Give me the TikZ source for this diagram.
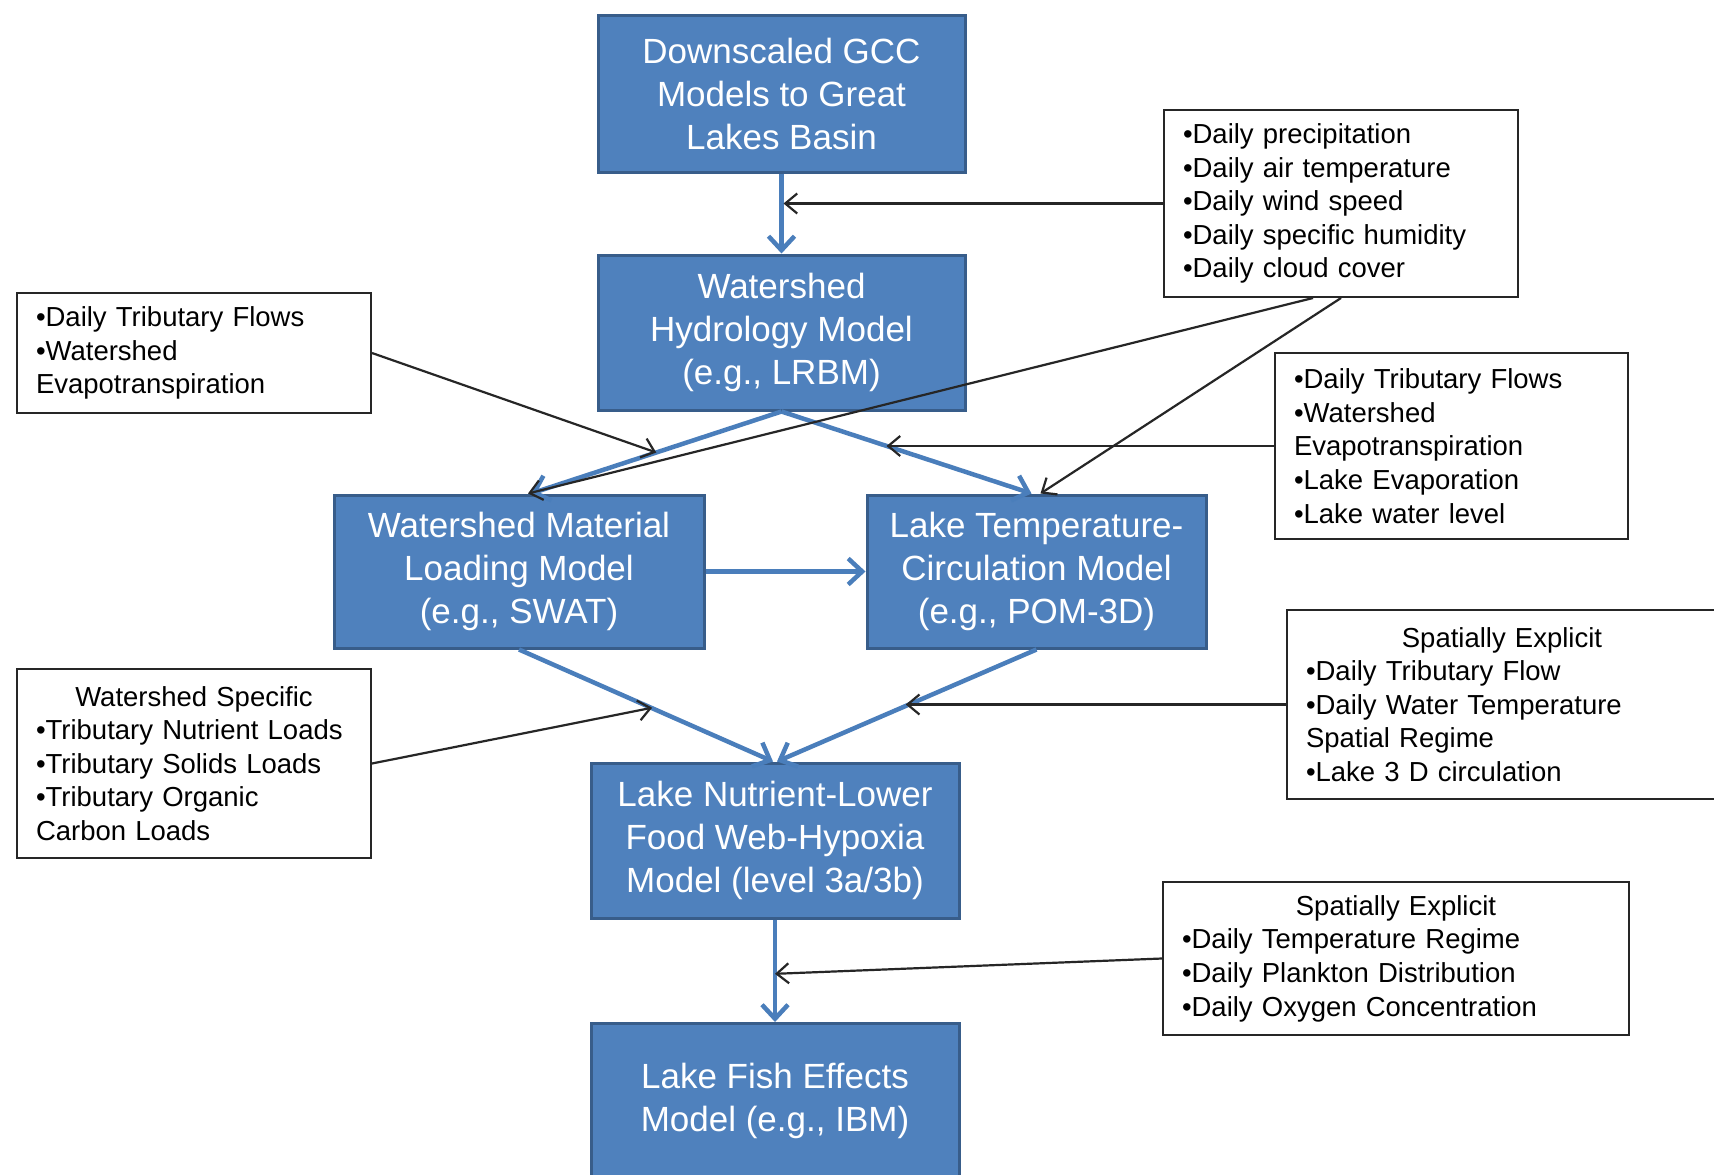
\documentclass[tikz,border=0pt]{standalone}
\usepackage{fontspec}
\setmainfont{Liberation Sans}
\usetikzlibrary{arrows.meta,calc}
\definecolor{modelblue}{HTML}{4F81BD}
\definecolor{modeledge}{HTML}{385D8A}
\definecolor{flowblue}{HTML}{4A7EBB}
\tikzset{
  model/.style={draw=modeledge, line width=3pt, fill=modelblue, text=white, align=center,
    inner sep=0pt, font=\fontsize{35}{42.6}\selectfont},
  note/.style={draw=black!85, line width=2pt, fill=white, align=left,
    inner xsep=19pt, inner ysep=0pt, font=\fontsize{27.5}{33.6}\selectfont},
  flow/.style={flowblue, line width=4.5pt, -{Straight Barb[length=14pt,width=26pt]}},
  feed/.style={black!85, line width=2.2pt, -{Straight Barb[length=12pt,width=20pt]}}
}
\newcommand{\headline}[1]{\makebox[\hsize]{#1}}

\begin{document}
\begin{tikzpicture}[x=1pt,y=-1pt]
  \fill[white] (0,0) rectangle (1714,1175);
  \useasboundingbox (0,0) rectangle (1714,1175);

  \node[model, minimum width=367pt, minimum height=157pt] (gcc) at (781.5,94) {Downscaled GCC\\Models to Great\\Lakes Basin};
  \node[model, minimum width=367pt, minimum height=155pt] (hydro) at (781.5,332.5) {Watershed\\Hydrology Model\\(e.g., LRBM)};
  \node[model, minimum width=370pt, minimum height=153pt] (material) at (519,571.5) {Watershed Material\\Loading Model\\(e.g., SWAT)};
  \node[model, minimum width=339pt, minimum height=153pt] (laketemp) at (1036.5,571.5) {Lake Temperature-\\Circulation Model\\(e.g., POM-3D)};
  \node[model, minimum width=368pt, minimum height=155pt] (nutrient) at (775,840.5) {Lake Nutrient-Lower\\Food Web-Hypoxia\\Model (level 3a/3b)};
  \node[model, minimum width=368pt, minimum height=155pt] (fish) at (775,1101) {Lake Fish Effects\\Model (e.g., IBM)};

  \node[note, text width=316pt, minimum height=187pt] (meteo) at (1341,203.5) {•Daily precipitation\\•Daily air temperature\\•Daily wind speed\\•Daily specific humidity\\•Daily cloud cover};
  \node[note, text width=316pt, minimum height=120pt] (tribleft) at (194,353) {•Daily Tributary Flows\\•Watershed\\Evapotranspiration};
  \node[note, text width=315pt, minimum height=186pt] (tribright) at (1451.5,446) {•Daily Tributary Flows\\•Watershed\\Evapotranspiration\\•Lake Evaporation\\•Lake water level};
  \node[note, text width=392pt, minimum height=189pt] (spatial1) at (1502,704.5) {\headline{Spatially Explicit}\\•Daily Tributary Flow\\•Daily Water Temperature\\Spatial Regime\\•Lake 3 D circulation};
  \node[note, text width=316pt, minimum height=189pt] (tribleft2) at (194,763.5) {\headline{Watershed Specific}\\•Tributary Nutrient Loads\\•Tributary Solids Loads\\•Tributary Organic\\Carbon Loads};
  \node[note, text width=428pt, minimum height=153pt] (spatial2) at (1396,958.5) {\headline{Spatially Explicit}\\•Daily Temperature Regime\\•Daily Plankton Distribution\\•Daily Oxygen Concentration};

  \draw[flow] (gcc.south) -- (hydro.north);
  \draw[flow] (hydro.south) -- ([xshift=12pt]material.north);
  \draw[flow] (hydro.south) -- ([xshift=-5pt]laketemp.north);
  \draw[flow] (material.east) -- (laketemp.west);
  \draw[flow] (material.south) -- ([xshift=-2pt]nutrient.north);
  \draw[flow] (laketemp.south) -- ([xshift=2pt]nutrient.north);
  \draw[flow] (nutrient.south) -- (fish.north);

  \coordinate (m1) at (gcc.south |- meteo.west);
  \coordinate (h1) at ($(hydro.south)!0.5!([xshift=12pt]material.north)$);
  \coordinate (h2) at ($(hydro.south)!0.42!([xshift=-5pt]laketemp.north)$);
  \coordinate (l1) at ($(material.south)!0.52!(nutrient.north)$);
  \coordinate (l2) at ($(laketemp.south)!0.5!(nutrient.north)$);
  \coordinate (f1) at ($(nutrient.south)!0.53!(fish.north)$);
  \draw[feed] (meteo.west) -- ([xshift=2pt]m1);
  \draw[feed] ([xshift=-28pt]meteo.south) -- ([xshift=9pt]material.north);
  \draw[feed] (meteo.south) -- ([xshift=4pt]laketemp.north);
  \draw[feed] (tribleft.east) -- (h1);
  \draw[feed] (tribright.west) -- (tribright.west -| h2);
  \draw[feed] (tribleft2.east) -- (l1);
  \draw[feed] (spatial1.west) -- (spatial1.west -| l2);
  \draw[feed] (spatial2.west) -- (f1);
\end{tikzpicture}
\end{document}
